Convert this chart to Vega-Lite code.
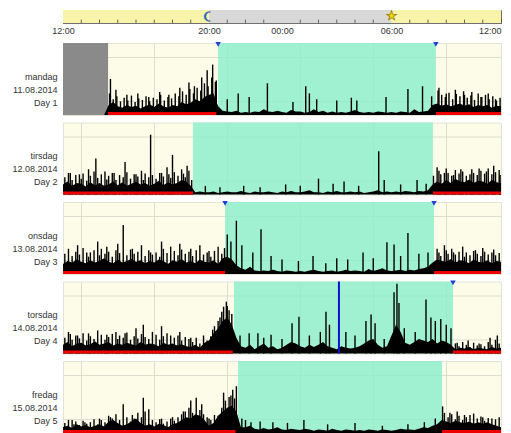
{
"$schema":"https://vega.github.io/schema/vega-lite/v6.json",
"padding":{"left":11,"top":9,"right":0,"bottom":0},
"bounds":"flush",
"spacing":20,
"config":{"view":{"fill":"#fcfce8","stroke":"#e4e4d4"},"font":"Liberation Sans"},
"datasets":{
"clock":[{"h1":12,"h2":20,"part":"day"},{"h1":20,"h2":30,"part":"night"},{"h1":30,"h2":36,"part":"day"}],
"hours":[{"h":13},{"h":14},{"h":15},{"h":16},{"h":17},{"h":18},{"h":19},{"h":21},{"h":22},{"h":23},{"h":25},{"h":26},{"h":27},{"h":28},{"h":29},{"h":31},{"h":32},{"h":33},{"h":34},{"h":35}],
"icons":[{"h":20,"sym":"moon"},{"h":30,"sym":"sun"}],
"ivl":[
{"d":1,"kind":"nodata","h1":12,"h2":14.47},
{"d":1,"kind":"sleep","h1":20.5,"h2":32.43},{"d":2,"kind":"sleep","h1":19.12,"h2":32.27},{"d":3,"kind":"sleep","h1":20.88,"h2":32.33},{"d":4,"kind":"sleep","h1":21.37,"h2":33.37},{"d":5,"kind":"sleep","h1":21.59,"h2":32.77},
{"d":1,"kind":"wake","h1":14.47,"h2":20.4},{"d":1,"kind":"wake","h1":32.43,"h2":36},
{"d":2,"kind":"wake","h1":12,"h2":19.12},{"d":2,"kind":"wake","h1":32.27,"h2":36},
{"d":3,"kind":"wake","h1":12,"h2":20.88},{"d":3,"kind":"wake","h1":32.33,"h2":36},
{"d":4,"kind":"wake","h1":12,"h2":21.3},{"d":4,"kind":"wake","h1":33.37,"h2":36},
{"d":5,"kind":"wake","h1":12,"h2":21.45},{"d":5,"kind":"wake","h1":32.77,"h2":36}
],
"tri":[{"d":1,"h":20.5},{"d":1,"h":32.43},{"d":3,"h":20.88},{"d":3,"h":32.33},{"d":4,"h":33.37}],
"event":[{"d":4,"h":27.12}],
"act":[
{"h":12,"a":0,"b":14,"c":14,"d":12,"e":8},{"h":12.25,"a":0,"b":18,"c":18,"d":16,"e":10},{"h":12.5,"a":0,"b":12,"c":16,"d":10,"e":7},{"h":12.75,"a":0,"b":16,"c":20,"d":14,"e":12},
{"h":13,"a":0,"b":15,"c":17,"d":15,"e":9},{"h":13.25,"a":0,"b":11,"c":15,"d":11,"e":11},{"h":13.5,"a":0,"b":17,"c":19,"d":13,"e":8},{"h":13.75,"a":0,"b":13,"c":16,"d":17,"e":10},
{"h":14,"a":0,"b":16,"c":18,"d":12,"e":12},{"h":14.25,"a":0,"b":12,"c":22,"d":14,"e":9},{"h":14.5,"a":14,"b":14,"c":17,"d":16,"e":16},{"h":14.75,"a":18,"b":18,"c":15,"d":11,"e":18},
{"h":15,"a":12,"b":13,"c":20,"d":14,"e":14},{"h":15.25,"a":10,"b":17,"c":16,"d":12,"e":10},{"h":15.5,"a":14,"b":12,"c":18,"d":15,"e":12},{"h":15.75,"a":11,"b":15,"c":21,"d":13,"e":16},
{"h":16,"a":13,"b":18,"c":17,"d":11,"e":20},{"h":16.25,"a":9,"b":14,"c":19,"d":16,"e":14},{"h":16.5,"a":12,"b":16,"c":15,"d":12,"e":10},{"h":16.75,"a":15,"b":12,"c":18,"d":14,"e":12},
{"h":17,"a":11,"b":15,"c":16,"d":13,"e":9},{"h":17.25,"a":16,"b":19,"c":20,"d":10,"e":13},{"h":17.5,"a":12,"b":13,"c":18,"d":15,"e":11},{"h":17.75,"a":10,"b":17,"c":14,"d":12,"e":8},
{"h":18,"a":14,"b":14,"c":19,"d":14,"e":12},{"h":18.25,"a":12,"b":16,"c":17,"d":11,"e":14},{"h":18.5,"a":18,"b":20,"c":21,"d":13,"e":18},{"h":18.75,"a":15,"b":18,"c":16,"d":10,"e":22},
{"h":19,"a":17,"b":12,"c":18,"d":9,"e":20},{"h":19.25,"a":22,"b":3,"c":15,"d":12,"e":26},{"h":19.5,"a":19,"b":4,"c":20,"d":8,"e":24},{"h":19.75,"a":25,"b":3,"c":17,"d":15,"e":18},
{"h":20,"a":28,"b":3,"c":16,"d":18,"e":10},{"h":20.25,"a":30,"b":4,"c":19,"d":28,"e":14},{"h":20.5,"a":12,"b":2,"c":14,"d":35,"e":24},{"h":20.75,"a":6,"b":3,"c":22,"d":45,"e":30},
{"h":21,"a":5,"b":4,"c":24,"d":50,"e":35},{"h":21.25,"a":4,"b":3,"c":20,"d":40,"e":38},{"h":21.5,"a":6,"b":3,"c":12,"d":22,"e":30},{"h":21.75,"a":3,"b":5,"c":8,"d":10,"e":8},
{"h":22,"a":4,"b":3,"c":6,"d":8,"e":8},{"h":22.25,"a":3,"b":2,"c":10,"d":12,"e":10},{"h":22.5,"a":5,"b":4,"c":5,"d":6,"e":6},{"h":22.75,"a":4,"b":3,"c":4,"d":10,"e":5},
{"h":23,"a":8,"b":3,"c":5,"d":14,"e":7},{"h":23.25,"a":5,"b":4,"c":4,"d":8,"e":5},{"h":23.5,"a":4,"b":3,"c":6,"d":10,"e":6},{"h":23.75,"a":6,"b":2,"c":4,"d":6,"e":8},
{"h":24,"a":4,"b":4,"c":3,"d":8,"e":5},{"h":24.25,"a":3,"b":3,"c":5,"d":12,"e":4},{"h":24.5,"a":7,"b":5,"c":4,"d":16,"e":6},{"h":24.75,"a":5,"b":3,"c":3,"d":14,"e":5},
{"h":25,"a":5,"b":3,"c":4,"d":10,"e":4},{"h":25.25,"a":3,"b":4,"c":3,"d":8,"e":6},{"h":25.5,"a":4,"b":6,"c":5,"d":12,"e":5},{"h":25.75,"a":8,"b":3,"c":6,"d":9,"e":3},
{"h":26,"a":4,"b":3,"c":4,"d":12,"e":5},{"h":26.25,"a":6,"b":2,"c":3,"d":16,"e":4},{"h":26.5,"a":3,"b":4,"c":4,"d":10,"e":3},{"h":26.75,"a":5,"b":3,"c":5,"d":8,"e":6},
{"h":27,"a":3,"b":5,"c":3,"d":6,"e":4},{"h":27.25,"a":4,"b":3,"c":4,"d":10,"e":3},{"h":27.5,"a":3,"b":3,"c":6,"d":8,"e":5},{"h":27.75,"a":5,"b":4,"c":4,"d":7,"e":4},
{"h":28,"a":7,"b":3,"c":5,"d":8,"e":3},{"h":28.25,"a":4,"b":4,"c":4,"d":10,"e":4},{"h":28.5,"a":3,"b":2,"c":3,"d":14,"e":3},{"h":28.75,"a":4,"b":3,"c":7,"d":18,"e":5},
{"h":29,"a":3,"b":4,"c":4,"d":20,"e":4},{"h":29.25,"a":5,"b":6,"c":6,"d":12,"e":3},{"h":29.5,"a":4,"b":3,"c":8,"d":8,"e":5},{"h":29.75,"a":3,"b":4,"c":5,"d":10,"e":4},
{"h":30,"a":4,"b":3,"c":4,"d":25,"e":3},{"h":30.25,"a":3,"b":4,"c":5,"d":40,"e":4},{"h":30.5,"a":5,"b":3,"c":6,"d":30,"e":6},{"h":30.75,"a":4,"b":5,"c":4,"d":15,"e":5},
{"h":31,"a":3,"b":4,"c":6,"d":12,"e":5},{"h":31.25,"a":8,"b":3,"c":5,"d":16,"e":4},{"h":31.5,"a":4,"b":5,"c":7,"d":20,"e":6},{"h":31.75,"a":5,"b":4,"c":8,"d":18,"e":8},
{"h":32,"a":6,"b":6,"c":10,"d":16,"e":7},{"h":32.25,"a":14,"b":14,"c":16,"d":20,"e":10},{"h":32.5,"a":16,"b":18,"c":20,"d":14,"e":12},{"h":32.75,"a":13,"b":15,"c":18,"d":18,"e":18},
{"h":33,"a":15,"b":20,"c":17,"d":16,"e":16},{"h":33.25,"a":12,"b":16,"c":21,"d":12,"e":14},{"h":33.5,"a":14,"b":22,"c":16,"d":6,"e":17},{"h":33.75,"a":16,"b":18,"c":19,"d":8,"e":15},
{"h":34,"a":13,"b":17,"c":18,"d":7,"e":14},{"h":34.25,"a":15,"b":21,"c":15,"d":9,"e":16},{"h":34.5,"a":11,"b":16,"c":20,"d":6,"e":13},{"h":34.75,"a":14,"b":19,"c":17,"d":8,"e":15},
{"h":35,"a":12,"b":18,"c":16,"d":7,"e":13},{"h":35.25,"a":14,"b":15,"c":19,"d":6,"e":15},{"h":35.5,"a":10,"b":20,"c":15,"d":9,"e":12},{"h":35.75,"a":13,"b":17,"c":18,"d":7,"e":10},
{"h":36,"a":12,"b":16,"c":17,"d":8,"e":8}
],
"spk":[
{"d":1,"h":14.6,"v":50},{"d":1,"h":14.9,"v":35},{"d":1,"h":15.5,"v":28},{"d":1,"h":16.1,"v":30},{"d":1,"h":16.7,"v":25},{"d":1,"h":17.3,"v":32},{"d":1,"h":17.8,"v":28},{"d":1,"h":18.4,"v":38},{"d":1,"h":18.9,"v":45},{"d":1,"h":19.2,"v":40},{"d":1,"h":19.6,"v":52},{"d":1,"h":19.9,"v":62},{"d":1,"h":20.2,"v":70},{"d":1,"h":20.4,"v":48},
{"d":1,"h":21.0,"v":22},{"d":1,"h":21.6,"v":30},{"d":1,"h":22.2,"v":25},{"d":1,"h":23.2,"v":44},{"d":1,"h":24.6,"v":18},{"d":1,"h":25.3,"v":40},{"d":1,"h":25.5,"v":30},{"d":1,"h":25.9,"v":22},{"d":1,"h":27.0,"v":20},{"d":1,"h":27.8,"v":24},{"d":1,"h":28.1,"v":20},{"d":1,"h":29.7,"v":25},{"d":1,"h":30.9,"v":36},{"d":1,"h":31.7,"v":40},{"d":1,"h":32.2,"v":26},
{"d":1,"h":32.6,"v":38},{"d":1,"h":33.0,"v":30},{"d":1,"h":33.5,"v":35},{"d":1,"h":34.0,"v":28},{"d":1,"h":34.4,"v":32},{"d":1,"h":34.9,"v":25},{"d":1,"h":35.3,"v":30},{"d":1,"h":35.7,"v":22},
{"d":1,"h":14.55,"v":30},{"d":1,"h":14.75,"v":22},{"d":1,"h":14.95,"v":26},{"d":1,"h":15.15,"v":19},{"d":1,"h":15.35,"v":24},{"d":1,"h":15.55,"v":20},{"d":1,"h":15.75,"v":27},{"d":1,"h":15.95,"v":18},{"d":1,"h":16.15,"v":23},{"d":1,"h":16.35,"v":21},{"d":1,"h":16.55,"v":26},{"d":1,"h":16.75,"v":19},{"d":1,"h":16.95,"v":24},{"d":1,"h":17.15,"v":22},{"d":1,"h":17.35,"v":28},{"d":1,"h":17.55,"v":20},{"d":1,"h":17.75,"v":25},{"d":1,"h":17.95,"v":23},{"d":1,"h":18.15,"v":30},{"d":1,"h":18.35,"v":26},{"d":1,"h":18.55,"v":33},{"d":1,"h":18.75,"v":28},{"d":1,"h":18.95,"v":36},{"d":1,"h":19.15,"v":30},{"d":1,"h":19.35,"v":38},{"d":1,"h":19.55,"v":34},{"d":1,"h":19.75,"v":44},{"d":1,"h":19.95,"v":40},{"d":1,"h":20.15,"v":52},{"d":1,"h":20.35,"v":46},
{"d":1,"h":32.55,"v":34},{"d":1,"h":32.75,"v":28},{"d":1,"h":32.95,"v":25},{"d":1,"h":33.15,"v":31},{"d":1,"h":33.35,"v":22},{"d":1,"h":33.55,"v":29},{"d":1,"h":33.75,"v":26},{"d":1,"h":33.95,"v":33},{"d":1,"h":34.15,"v":24},{"d":1,"h":34.35,"v":27},{"d":1,"h":34.55,"v":21},{"d":1,"h":34.75,"v":30},{"d":1,"h":34.95,"v":25},{"d":1,"h":35.15,"v":28},{"d":1,"h":35.35,"v":22},{"d":1,"h":35.55,"v":26},{"d":1,"h":35.75,"v":20},{"d":1,"h":35.95,"v":24},
{"d":2,"h":12.4,"v":30},{"d":2,"h":12.9,"v":28},{"d":2,"h":13.4,"v":35},{"d":2,"h":13.8,"v":50},{"d":2,"h":14.3,"v":32},{"d":2,"h":14.8,"v":30},{"d":2,"h":15.4,"v":45},{"d":2,"h":15.9,"v":28},{"d":2,"h":16.3,"v":33},{"d":2,"h":16.8,"v":83},{"d":2,"h":17.3,"v":30},{"d":2,"h":17.7,"v":38},{"d":2,"h":18.0,"v":55},{"d":2,"h":18.5,"v":35},{"d":2,"h":18.8,"v":40},
{"d":2,"h":19.8,"v":12},{"d":2,"h":20.6,"v":10},{"d":2,"h":21.9,"v":12},{"d":2,"h":22.8,"v":10},{"d":2,"h":24.2,"v":14},{"d":2,"h":25.0,"v":12},{"d":2,"h":26.0,"v":22},{"d":2,"h":26.8,"v":15},{"d":2,"h":27.4,"v":18},{"d":2,"h":28.2,"v":12},{"d":2,"h":29.3,"v":60},{"d":2,"h":29.6,"v":20},{"d":2,"h":30.5,"v":14},{"d":2,"h":31.4,"v":20},{"d":2,"h":31.9,"v":15},
{"d":2,"h":32.5,"v":38},{"d":2,"h":32.9,"v":30},{"d":2,"h":33.3,"v":26},{"d":2,"h":33.8,"v":35},{"d":2,"h":34.3,"v":28},{"d":2,"h":34.8,"v":36},{"d":2,"h":35.2,"v":32},{"d":2,"h":35.6,"v":40},{"d":2,"h":35.9,"v":34},
{"d":2,"h":12.1,"v":24},{"d":2,"h":12.3,"v":30},{"d":2,"h":12.5,"v":20},{"d":2,"h":12.7,"v":27},{"d":2,"h":13.0,"v":22},{"d":2,"h":13.1,"v":29},{"d":2,"h":13.3,"v":19},{"d":2,"h":13.5,"v":26},{"d":2,"h":13.7,"v":32},{"d":2,"h":13.9,"v":23},{"d":2,"h":14.1,"v":28},{"d":2,"h":14.4,"v":21},{"d":2,"h":14.5,"v":26},{"d":2,"h":14.7,"v":30},{"d":2,"h":14.9,"v":20},{"d":2,"h":15.1,"v":27},{"d":2,"h":15.3,"v":24},{"d":2,"h":15.5,"v":31},{"d":2,"h":15.7,"v":22},{"d":2,"h":16.0,"v":28},{"d":2,"h":16.1,"v":25},{"d":2,"h":16.4,"v":20},{"d":2,"h":16.5,"v":29},{"d":2,"h":16.7,"v":24},{"d":2,"h":16.9,"v":27},{"d":2,"h":17.1,"v":22},{"d":2,"h":17.4,"v":30},{"d":2,"h":17.5,"v":25},{"d":2,"h":17.8,"v":28},{"d":2,"h":17.9,"v":23},{"d":2,"h":18.1,"v":31},{"d":2,"h":18.3,"v":26},{"d":2,"h":18.6,"v":29},{"d":2,"h":18.7,"v":24},{"d":2,"h":18.9,"v":33},{"d":2,"h":19.05,"v":20},
{"d":2,"h":32.3,"v":26},{"d":2,"h":32.6,"v":33},{"d":2,"h":32.7,"v":28},{"d":2,"h":33.0,"v":36},{"d":2,"h":33.1,"v":30},{"d":2,"h":33.4,"v":27},{"d":2,"h":33.5,"v":34},{"d":2,"h":33.7,"v":29},{"d":2,"h":33.9,"v":32},{"d":2,"h":34.1,"v":26},{"d":2,"h":34.4,"v":35},{"d":2,"h":34.5,"v":30},{"d":2,"h":34.7,"v":27},{"d":2,"h":34.9,"v":33},{"d":2,"h":35.1,"v":29},{"d":2,"h":35.3,"v":36},{"d":2,"h":35.5,"v":28},{"d":2,"h":35.7,"v":31},{"d":2,"h":35.95,"v":27},
{"d":3,"h":12.3,"v":35},{"d":3,"h":12.8,"v":40},{"d":3,"h":13.3,"v":30},{"d":3,"h":13.9,"v":45},{"d":3,"h":14.4,"v":38},{"d":3,"h":15.0,"v":42},{"d":3,"h":15.3,"v":68},{"d":3,"h":15.8,"v":35},{"d":3,"h":16.3,"v":40},{"d":3,"h":16.8,"v":30},{"d":3,"h":17.4,"v":45},{"d":3,"h":17.9,"v":38},{"d":3,"h":18.4,"v":42},{"d":3,"h":19.0,"v":35},{"d":3,"h":19.5,"v":40},{"d":3,"h":20.0,"v":32},{"d":3,"h":20.5,"v":38},
{"d":3,"h":21.0,"v":55},{"d":3,"h":21.2,"v":45},{"d":3,"h":21.5,"v":74},{"d":3,"h":21.8,"v":40},{"d":3,"h":22.4,"v":30},{"d":3,"h":22.85,"v":62},{"d":3,"h":23.4,"v":25},{"d":3,"h":24.0,"v":20},{"d":3,"h":24.9,"v":18},{"d":3,"h":25.7,"v":25},{"d":3,"h":26.4,"v":15},{"d":3,"h":27.0,"v":22},{"d":3,"h":27.6,"v":20},{"d":3,"h":28.44,"v":30},{"d":3,"h":29.0,"v":22},{"d":3,"h":29.75,"v":44},{"d":3,"h":30.14,"v":41},{"d":3,"h":30.5,"v":25},{"d":3,"h":30.9,"v":57},{"d":3,"h":31.5,"v":28},{"d":3,"h":32.0,"v":30},
{"d":3,"h":32.5,"v":35},{"d":3,"h":32.9,"v":40},{"d":3,"h":33.4,"v":30},{"d":3,"h":33.9,"v":38},{"d":3,"h":34.5,"v":32},{"d":3,"h":35.0,"v":36},{"d":3,"h":35.5,"v":30},
{"d":3,"h":12.1,"v":28},{"d":3,"h":12.5,"v":25},{"d":3,"h":12.7,"v":31},{"d":3,"h":12.9,"v":27},{"d":3,"h":13.1,"v":36},{"d":3,"h":13.4,"v":24},{"d":3,"h":13.5,"v":30},{"d":3,"h":13.7,"v":33},{"d":3,"h":14.0,"v":26},{"d":3,"h":14.1,"v":35},{"d":3,"h":14.3,"v":28},{"d":3,"h":14.5,"v":31},{"d":3,"h":14.7,"v":24},{"d":3,"h":14.9,"v":33},{"d":3,"h":15.1,"v":29},{"d":3,"h":15.5,"v":26},{"d":3,"h":15.7,"v":34},{"d":3,"h":15.9,"v":28},{"d":3,"h":16.1,"v":31},{"d":3,"h":16.5,"v":25},{"d":3,"h":16.7,"v":33},{"d":3,"h":16.9,"v":27},{"d":3,"h":17.1,"v":30},{"d":3,"h":17.3,"v":24},{"d":3,"h":17.5,"v":35},{"d":3,"h":17.7,"v":29},{"d":3,"h":18.1,"v":32},{"d":3,"h":18.3,"v":26},{"d":3,"h":18.5,"v":34},{"d":3,"h":18.7,"v":28},{"d":3,"h":18.9,"v":31},{"d":3,"h":19.1,"v":25},{"d":3,"h":19.3,"v":33},{"d":3,"h":19.7,"v":27},{"d":3,"h":19.9,"v":30},{"d":3,"h":20.1,"v":24},{"d":3,"h":20.3,"v":32},{"d":3,"h":20.7,"v":28},{"d":3,"h":20.85,"v":36},
{"d":3,"h":32.6,"v":30},{"d":3,"h":32.7,"v":25},{"d":3,"h":33.0,"v":33},{"d":3,"h":33.1,"v":28},{"d":3,"h":33.3,"v":35},{"d":3,"h":33.5,"v":27},{"d":3,"h":33.7,"v":31},{"d":3,"h":34.0,"v":24},{"d":3,"h":34.1,"v":30},{"d":3,"h":34.3,"v":26},{"d":3,"h":34.6,"v":33},{"d":3,"h":34.7,"v":28},{"d":3,"h":34.9,"v":25},{"d":3,"h":35.1,"v":31},{"d":3,"h":35.3,"v":27},{"d":3,"h":35.6,"v":34},{"d":3,"h":35.7,"v":26},{"d":3,"h":35.9,"v":29},
{"d":4,"h":12.3,"v":30},{"d":4,"h":12.8,"v":25},{"d":4,"h":13.4,"v":28},{"d":4,"h":13.9,"v":32},{"d":4,"h":14.4,"v":26},{"d":4,"h":14.9,"v":30},{"d":4,"h":15.4,"v":28},{"d":4,"h":16.0,"v":35},{"d":4,"h":16.4,"v":40},{"d":4,"h":16.9,"v":30},{"d":4,"h":17.4,"v":38},{"d":4,"h":17.9,"v":25},{"d":4,"h":18.4,"v":30},{"d":4,"h":19.0,"v":22},{"d":4,"h":19.7,"v":25},{"d":4,"h":20.2,"v":33},{"d":4,"h":20.5,"v":45},{"d":4,"h":20.8,"v":65},{"d":4,"h":20.95,"v":72},{"d":4,"h":21.1,"v":60},{"d":4,"h":21.25,"v":55},
{"d":4,"h":21.7,"v":25},{"d":4,"h":22.2,"v":28},{"d":4,"h":22.68,"v":28},{"d":4,"h":23.0,"v":22},{"d":4,"h":23.4,"v":26},{"d":4,"h":24.0,"v":20},{"d":4,"h":24.55,"v":42},{"d":4,"h":24.93,"v":51},{"d":4,"h":25.5,"v":25},{"d":4,"h":26.1,"v":30},{"d":4,"h":26.41,"v":58},{"d":4,"h":26.6,"v":40},{"d":4,"h":27.5,"v":30},{"d":4,"h":28.0,"v":25},{"d":4,"h":28.6,"v":45},{"d":4,"h":28.88,"v":54},{"d":4,"h":29.1,"v":42},{"d":4,"h":29.6,"v":20},{"d":4,"h":30.14,"v":85},{"d":4,"h":30.3,"v":97},{"d":4,"h":30.41,"v":70},{"d":4,"h":30.7,"v":35},{"d":4,"h":31.3,"v":30},{"d":4,"h":31.89,"v":75},{"d":4,"h":32.16,"v":50},{"d":4,"h":32.4,"v":45},{"d":4,"h":32.7,"v":48},{"d":4,"h":33.0,"v":40},{"d":4,"h":33.26,"v":35},
{"d":4,"h":33.6,"v":15},{"d":4,"h":34.2,"v":18},{"d":4,"h":34.8,"v":14},{"d":4,"h":35.4,"v":22},{"d":4,"h":35.8,"v":25},
{"d":4,"h":12.1,"v":22},{"d":4,"h":12.4,"v":27},{"d":4,"h":12.5,"v":19},{"d":4,"h":12.7,"v":25},{"d":4,"h":12.9,"v":21},{"d":4,"h":13.1,"v":28},{"d":4,"h":13.3,"v":18},{"d":4,"h":13.5,"v":24},{"d":4,"h":13.7,"v":20},{"d":4,"h":14.1,"v":26},{"d":4,"h":14.3,"v":19},{"d":4,"h":14.5,"v":23},{"d":4,"h":14.7,"v":27},{"d":4,"h":15.0,"v":20},{"d":4,"h":15.1,"v":25},{"d":4,"h":15.3,"v":22},{"d":4,"h":15.5,"v":29},{"d":4,"h":15.7,"v":19},{"d":4,"h":15.9,"v":24},{"d":4,"h":16.1,"v":21},{"d":4,"h":16.3,"v":27},{"d":4,"h":16.5,"v":23},{"d":4,"h":16.7,"v":20},{"d":4,"h":17.1,"v":26},{"d":4,"h":17.3,"v":19},{"d":4,"h":17.5,"v":24},{"d":4,"h":17.7,"v":28},{"d":4,"h":18.1,"v":22},{"d":4,"h":18.3,"v":25},{"d":4,"h":18.5,"v":18},{"d":4,"h":18.7,"v":23},{"d":4,"h":18.9,"v":20},{"d":4,"h":19.1,"v":16},{"d":4,"h":19.3,"v":22},{"d":4,"h":19.5,"v":14},{"d":4,"h":19.9,"v":18},{"d":4,"h":20.1,"v":24},{"d":4,"h":20.3,"v":38},{"d":4,"h":20.6,"v":50},{"d":4,"h":20.7,"v":58},{"d":4,"h":21.0,"v":66},
{"d":4,"h":33.5,"v":14},{"d":4,"h":33.7,"v":10},{"d":4,"h":33.9,"v":16},{"d":4,"h":34.1,"v":12},{"d":4,"h":34.3,"v":9},{"d":4,"h":34.5,"v":15},{"d":4,"h":34.7,"v":11},{"d":4,"h":34.9,"v":13},{"d":4,"h":35.1,"v":10},{"d":4,"h":35.3,"v":16},{"d":4,"h":35.5,"v":12},{"d":4,"h":35.7,"v":19},{"d":4,"h":35.9,"v":14},
{"d":5,"h":12.5,"v":18},{"d":5,"h":13.2,"v":15},{"d":5,"h":14.0,"v":20},{"d":5,"h":14.6,"v":22},{"d":5,"h":15.3,"v":40},{"d":5,"h":15.8,"v":25},{"d":5,"h":16.4,"v":49},{"d":5,"h":16.7,"v":33},{"d":5,"h":17.4,"v":20},{"d":5,"h":18.0,"v":22},{"d":5,"h":18.6,"v":30},{"d":5,"h":19.0,"v":45},{"d":5,"h":19.3,"v":49},{"d":5,"h":19.6,"v":40},{"d":5,"h":20.0,"v":20},{"d":5,"h":20.3,"v":25},{"d":5,"h":20.8,"v":56},{"d":5,"h":21.1,"v":50},{"d":5,"h":21.3,"v":60},{"d":5,"h":21.5,"v":65},
{"d":5,"h":21.8,"v":20},{"d":5,"h":22.0,"v":18},{"d":5,"h":22.3,"v":15},{"d":5,"h":22.8,"v":16},{"d":5,"h":23.5,"v":15},{"d":5,"h":24.3,"v":14},{"d":5,"h":25.2,"v":18},{"d":5,"h":26.5,"v":12},{"d":5,"h":28.0,"v":14},{"d":5,"h":29.5,"v":10},{"d":5,"h":30.9,"v":12},{"d":5,"h":31.8,"v":15},{"d":5,"h":32.4,"v":20},
{"d":5,"h":32.8,"v":37},{"d":5,"h":33.2,"v":28},{"d":5,"h":33.6,"v":30},{"d":5,"h":34.0,"v":25},{"d":5,"h":34.5,"v":27},{"d":5,"h":35.0,"v":22},{"d":5,"h":35.5,"v":20},
{"d":5,"h":12.1,"v":14},{"d":5,"h":12.3,"v":18},{"d":5,"h":12.6,"v":12},{"d":5,"h":12.7,"v":16},{"d":5,"h":12.9,"v":11},{"d":5,"h":13.1,"v":17},{"d":5,"h":13.3,"v":13},{"d":5,"h":13.5,"v":15},{"d":5,"h":13.7,"v":19},{"d":5,"h":13.9,"v":12},{"d":5,"h":14.1,"v":18},{"d":5,"h":14.3,"v":15},{"d":5,"h":14.5,"v":24},{"d":5,"h":14.7,"v":20},{"d":5,"h":14.9,"v":26},{"d":5,"h":15.1,"v":18},{"d":5,"h":15.5,"v":22},{"d":5,"h":15.7,"v":16},{"d":5,"h":15.9,"v":20},{"d":5,"h":16.1,"v":28},{"d":5,"h":16.3,"v":22},{"d":5,"h":16.5,"v":30},{"d":5,"h":16.9,"v":18},{"d":5,"h":17.1,"v":15},{"d":5,"h":17.3,"v":19},{"d":5,"h":17.5,"v":13},{"d":5,"h":17.7,"v":16},{"d":5,"h":17.9,"v":20},{"d":5,"h":18.1,"v":17},{"d":5,"h":18.3,"v":22},{"d":5,"h":18.5,"v":26},{"d":5,"h":18.7,"v":30},{"d":5,"h":18.9,"v":35},{"d":5,"h":19.1,"v":28},{"d":5,"h":19.5,"v":32},{"d":5,"h":19.7,"v":26},{"d":5,"h":19.9,"v":22},{"d":5,"h":20.1,"v":18},{"d":5,"h":20.5,"v":24},{"d":5,"h":20.7,"v":35},{"d":5,"h":20.9,"v":45},{"d":5,"h":21.2,"v":52},{"d":5,"h":21.4,"v":48},
{"d":5,"h":32.9,"v":28},{"d":5,"h":33.1,"v":22},{"d":5,"h":33.3,"v":26},{"d":5,"h":33.5,"v":19},{"d":5,"h":33.7,"v":24},{"d":5,"h":33.9,"v":18},{"d":5,"h":34.1,"v":22},{"d":5,"h":34.3,"v":25},{"d":5,"h":34.7,"v":20},{"d":5,"h":34.9,"v":23},{"d":5,"h":35.1,"v":17},{"d":5,"h":35.3,"v":21},{"d":5,"h":35.7,"v":19},{"d":5,"h":35.9,"v":22}
]
},
"vconcat":[
{
"width":438,"height":13,
"view":{"stroke":"#707070","fill":"#f7f4a9"},
"layer":[
{"data":{"name":"clock"},"mark":{"type":"rect"},
 "encoding":{
  "x":{"field":"h1","type":"quantitative","scale":{"domain":[12,36],"nice":false,"zero":false},
   "axis":{"orient":"bottom","title":null,"grid":false,"domainColor":"#707070","values":[12,20,24,30,36],
    "labelExpr":"(datum.value % 24 < 10 ? '0' : '') + (datum.value % 24) + ':00'",
    "labelOverlap":false,"labelFlush":false,"labelFontSize":9,"labelColor":"#333","labelPadding":8,
    "labelAlign":{"condition":{"test":"datum.value == 36","value":"right"},"value":"center"},
    "tickSize":-5,"tickColor":"#555"}},
  "x2":{"field":"h2"},
  "color":{"field":"part","type":"nominal","scale":{"domain":["day","night"],"range":["#f7f4a9","#d8d8d8"]},"legend":null}}},
{"data":{"name":"hours"},"mark":{"type":"rule","color":"#666","strokeWidth":1},
 "encoding":{"x":{"field":"h","type":"quantitative"},"y":{"datum":0,"type":"quantitative","scale":{"domain":[0,10]},"axis":null},"y2":{"datum":2.6}}},
{"data":{"name":"icons"},"transform":[{"filter":"datum.sym == 'moon'"}],"mark":{"type":"point","shape":"M0.3,-0.95 A1,1 0 1,0 0.3,0.95 A0.95,0.95 0 1,1 0.3,-0.95 Z","filled":true,"color":"#2f74d6","stroke":"#1a4a9a","strokeWidth":0.5,"size":90,"opacity":1},
 "encoding":{"x":{"field":"h","type":"quantitative"},"y":{"datum":5}}},
{"data":{"name":"icons"},"transform":[{"filter":"datum.sym == 'sun'"}],"mark":{"type":"text","text":"★","color":"#f2d500","stroke":"#8a7000","strokeWidth":0.6,"fontSize":13,"font":"DejaVu Sans"},
 "encoding":{"x":{"field":"h","type":"quantitative"},"y":{"datum":5.5}}}
]
},
{
"spacing":7.5,
"bounds":"flush",
"vconcat":[
{"width":438,"height":72,"layer":[
{"data":{"name":"ivl"},"transform":[{"filter":"datum.d == 1 && datum.kind == 'sleep'"}],"mark":{"type":"rect","color":"#88edca","opacity":0.8},
 "encoding":{"x":{"field":"h1","type":"quantitative","scale":{"domain":[12,36],"nice":false,"zero":false},"axis":{"title":null,"labels":false,"ticks":false,"domain":false,"grid":true,"values":[13,14,15,16,17,18,19,20,21,22,23,24,25,26,27,28,29,30,31,32,33,34,35],"gridColor":{"condition":{"test":"datum.value % 6 == 0","value":"#a6a69c"},"value":"#deded0"}}},"x2":{"field":"h2"}}},
{"data":{"name":"ivl"},"transform":[{"filter":"datum.d == 1 && datum.kind == 'nodata'"}],"mark":{"type":"rect","color":"#8a8a8a"},
 "encoding":{"x":{"field":"h1","type":"quantitative"},"x2":{"field":"h2"}}},
{"data":{"name":"act"},"mark":{"type":"area","color":"#000"},
 "encoding":{"x":{"field":"h","type":"quantitative"},"y":{"field":"a","type":"quantitative","scale":{"domain":[0,100],"nice":false},
  "axis":{"values":[20,40,60,80],"labels":false,"ticks":false,"domain":false,"grid":true,"gridColor":"#deded0","title":["mandag","11.08.2014","Day 1"],"titleAngle":0,"titleAlign":"right","titleBaseline":"middle","titleX":-6,"titleY":33,"titleFontSize":9,"titleFontWeight":"normal","titleColor":"#333","titleLineHeight":13}}}},
{"data":{"name":"spk"},"transform":[{"filter":"datum.d == 1"}],"mark":{"type":"rule","color":"#000","strokeWidth":1.4},
 "encoding":{"x":{"field":"h","type":"quantitative"},"y":{"field":"v","type":"quantitative"},"y2":{"datum":0}}},
{"data":{"name":"ivl"},"transform":[{"filter":"datum.d == 1 && datum.kind == 'wake'"}],"mark":{"type":"rect","color":"#ee0000"},
 "encoding":{"x":{"field":"h1","type":"quantitative"},"x2":{"field":"h2"},"y":{"datum":0},"y2":{"datum":4}}},
{"data":{"name":"tri"},"transform":[{"filter":"datum.d == 1"}],"mark":{"type":"point","shape":"triangle-down","filled":true,"color":"#2040d8","size":30,"opacity":1},
 "encoding":{"x":{"field":"h","type":"quantitative"},"y":{"datum":98}}}
]},
{"width":438,"height":72,"layer":[
{"data":{"name":"ivl"},"transform":[{"filter":"datum.d == 2 && datum.kind == 'sleep'"}],"mark":{"type":"rect","color":"#88edca","opacity":0.8},
 "encoding":{"x":{"field":"h1","type":"quantitative","scale":{"domain":[12,36],"nice":false,"zero":false},"axis":{"title":null,"labels":false,"ticks":false,"domain":false,"grid":true,"values":[13,14,15,16,17,18,19,20,21,22,23,24,25,26,27,28,29,30,31,32,33,34,35],"gridColor":{"condition":{"test":"datum.value % 6 == 0","value":"#a6a69c"},"value":"#deded0"}}},"x2":{"field":"h2"}}},
{"data":{"name":"act"},"mark":{"type":"area","color":"#000"},
 "encoding":{"x":{"field":"h","type":"quantitative"},"y":{"field":"b","type":"quantitative","scale":{"domain":[0,100],"nice":false},
  "axis":{"values":[20,40,60,80],"labels":false,"ticks":false,"domain":false,"grid":true,"gridColor":"#deded0","title":["tirsdag","12.08.2014","Day 2"],"titleAngle":0,"titleAlign":"right","titleBaseline":"middle","titleX":-6,"titleY":33,"titleFontSize":9,"titleFontWeight":"normal","titleColor":"#333","titleLineHeight":13}}}},
{"data":{"name":"spk"},"transform":[{"filter":"datum.d == 2"}],"mark":{"type":"rule","color":"#000","strokeWidth":1.4},
 "encoding":{"x":{"field":"h","type":"quantitative"},"y":{"field":"v","type":"quantitative"},"y2":{"datum":0}}},
{"data":{"name":"ivl"},"transform":[{"filter":"datum.d == 2 && datum.kind == 'wake'"}],"mark":{"type":"rect","color":"#ee0000"},
 "encoding":{"x":{"field":"h1","type":"quantitative"},"x2":{"field":"h2"},"y":{"datum":0},"y2":{"datum":4}}}
]},
{"width":438,"height":72,"layer":[
{"data":{"name":"ivl"},"transform":[{"filter":"datum.d == 3 && datum.kind == 'sleep'"}],"mark":{"type":"rect","color":"#88edca","opacity":0.8},
 "encoding":{"x":{"field":"h1","type":"quantitative","scale":{"domain":[12,36],"nice":false,"zero":false},"axis":{"title":null,"labels":false,"ticks":false,"domain":false,"grid":true,"values":[13,14,15,16,17,18,19,20,21,22,23,24,25,26,27,28,29,30,31,32,33,34,35],"gridColor":{"condition":{"test":"datum.value % 6 == 0","value":"#a6a69c"},"value":"#deded0"}}},"x2":{"field":"h2"}}},
{"data":{"name":"act"},"mark":{"type":"area","color":"#000"},
 "encoding":{"x":{"field":"h","type":"quantitative"},"y":{"field":"c","type":"quantitative","scale":{"domain":[0,100],"nice":false},
  "axis":{"values":[20,40,60,80],"labels":false,"ticks":false,"domain":false,"grid":true,"gridColor":"#deded0","title":["onsdag","13.08.2014","Day 3"],"titleAngle":0,"titleAlign":"right","titleBaseline":"middle","titleX":-6,"titleY":33,"titleFontSize":9,"titleFontWeight":"normal","titleColor":"#333","titleLineHeight":13}}}},
{"data":{"name":"spk"},"transform":[{"filter":"datum.d == 3"}],"mark":{"type":"rule","color":"#000","strokeWidth":1.4},
 "encoding":{"x":{"field":"h","type":"quantitative"},"y":{"field":"v","type":"quantitative"},"y2":{"datum":0}}},
{"data":{"name":"ivl"},"transform":[{"filter":"datum.d == 3 && datum.kind == 'wake'"}],"mark":{"type":"rect","color":"#ee0000"},
 "encoding":{"x":{"field":"h1","type":"quantitative"},"x2":{"field":"h2"},"y":{"datum":0},"y2":{"datum":4}}},
{"data":{"name":"tri"},"transform":[{"filter":"datum.d == 3"}],"mark":{"type":"point","shape":"triangle-down","filled":true,"color":"#2040d8","size":30,"opacity":1},
 "encoding":{"x":{"field":"h","type":"quantitative"},"y":{"datum":98}}}
]},
{"width":438,"height":72,"layer":[
{"data":{"name":"ivl"},"transform":[{"filter":"datum.d == 4 && datum.kind == 'sleep'"}],"mark":{"type":"rect","color":"#88edca","opacity":0.8},
 "encoding":{"x":{"field":"h1","type":"quantitative","scale":{"domain":[12,36],"nice":false,"zero":false},"axis":{"title":null,"labels":false,"ticks":false,"domain":false,"grid":true,"values":[13,14,15,16,17,18,19,20,21,22,23,24,25,26,27,28,29,30,31,32,33,34,35],"gridColor":{"condition":{"test":"datum.value % 6 == 0","value":"#a6a69c"},"value":"#deded0"}}},"x2":{"field":"h2"}}},
{"data":{"name":"act"},"mark":{"type":"area","color":"#000"},
 "encoding":{"x":{"field":"h","type":"quantitative"},"y":{"field":"d","type":"quantitative","scale":{"domain":[0,100],"nice":false},
  "axis":{"values":[20,40,60,80],"labels":false,"ticks":false,"domain":false,"grid":true,"gridColor":"#deded0","title":["torsdag","14.08.2014","Day 4"],"titleAngle":0,"titleAlign":"right","titleBaseline":"middle","titleX":-6,"titleY":33,"titleFontSize":9,"titleFontWeight":"normal","titleColor":"#333","titleLineHeight":13}}}},
{"data":{"name":"spk"},"transform":[{"filter":"datum.d == 4"}],"mark":{"type":"rule","color":"#000","strokeWidth":1.4},
 "encoding":{"x":{"field":"h","type":"quantitative"},"y":{"field":"v","type":"quantitative"},"y2":{"datum":0}}},
{"data":{"name":"event"},"mark":{"type":"rule","color":"#1010d0","strokeWidth":2},
 "encoding":{"x":{"field":"h","type":"quantitative"}}},
{"data":{"name":"ivl"},"transform":[{"filter":"datum.d == 4 && datum.kind == 'wake'"}],"mark":{"type":"rect","color":"#ee0000"},
 "encoding":{"x":{"field":"h1","type":"quantitative"},"x2":{"field":"h2"},"y":{"datum":0},"y2":{"datum":4}}},
{"data":{"name":"tri"},"transform":[{"filter":"datum.d == 4"}],"mark":{"type":"point","shape":"triangle-down","filled":true,"color":"#2040d8","size":30,"opacity":1},
 "encoding":{"x":{"field":"h","type":"quantitative"},"y":{"datum":98}}}
]},
{"width":438,"height":72,"layer":[
{"data":{"name":"ivl"},"transform":[{"filter":"datum.d == 5 && datum.kind == 'sleep'"}],"mark":{"type":"rect","color":"#88edca","opacity":0.8},
 "encoding":{"x":{"field":"h1","type":"quantitative","scale":{"domain":[12,36],"nice":false,"zero":false},"axis":{"title":null,"labels":false,"ticks":false,"domain":false,"grid":true,"values":[13,14,15,16,17,18,19,20,21,22,23,24,25,26,27,28,29,30,31,32,33,34,35],"gridColor":{"condition":{"test":"datum.value % 6 == 0","value":"#a6a69c"},"value":"#deded0"}}},"x2":{"field":"h2"}}},
{"data":{"name":"act"},"mark":{"type":"area","color":"#000"},
 "encoding":{"x":{"field":"h","type":"quantitative"},"y":{"field":"e","type":"quantitative","scale":{"domain":[0,100],"nice":false},
  "axis":{"values":[20,40,60,80],"labels":false,"ticks":false,"domain":false,"grid":true,"gridColor":"#deded0","title":["fredag","15.08.2014","Day 5"],"titleAngle":0,"titleAlign":"right","titleBaseline":"middle","titleX":-6,"titleY":33,"titleFontSize":9,"titleFontWeight":"normal","titleColor":"#333","titleLineHeight":13}}}},
{"data":{"name":"spk"},"transform":[{"filter":"datum.d == 5"}],"mark":{"type":"rule","color":"#000","strokeWidth":1.4},
 "encoding":{"x":{"field":"h","type":"quantitative"},"y":{"field":"v","type":"quantitative"},"y2":{"datum":0}}},
{"data":{"name":"ivl"},"transform":[{"filter":"datum.d == 5 && datum.kind == 'wake'"}],"mark":{"type":"rect","color":"#ee0000"},
 "encoding":{"x":{"field":"h1","type":"quantitative"},"x2":{"field":"h2"},"y":{"datum":0},"y2":{"datum":4}}}
]}
]
}
]
}
